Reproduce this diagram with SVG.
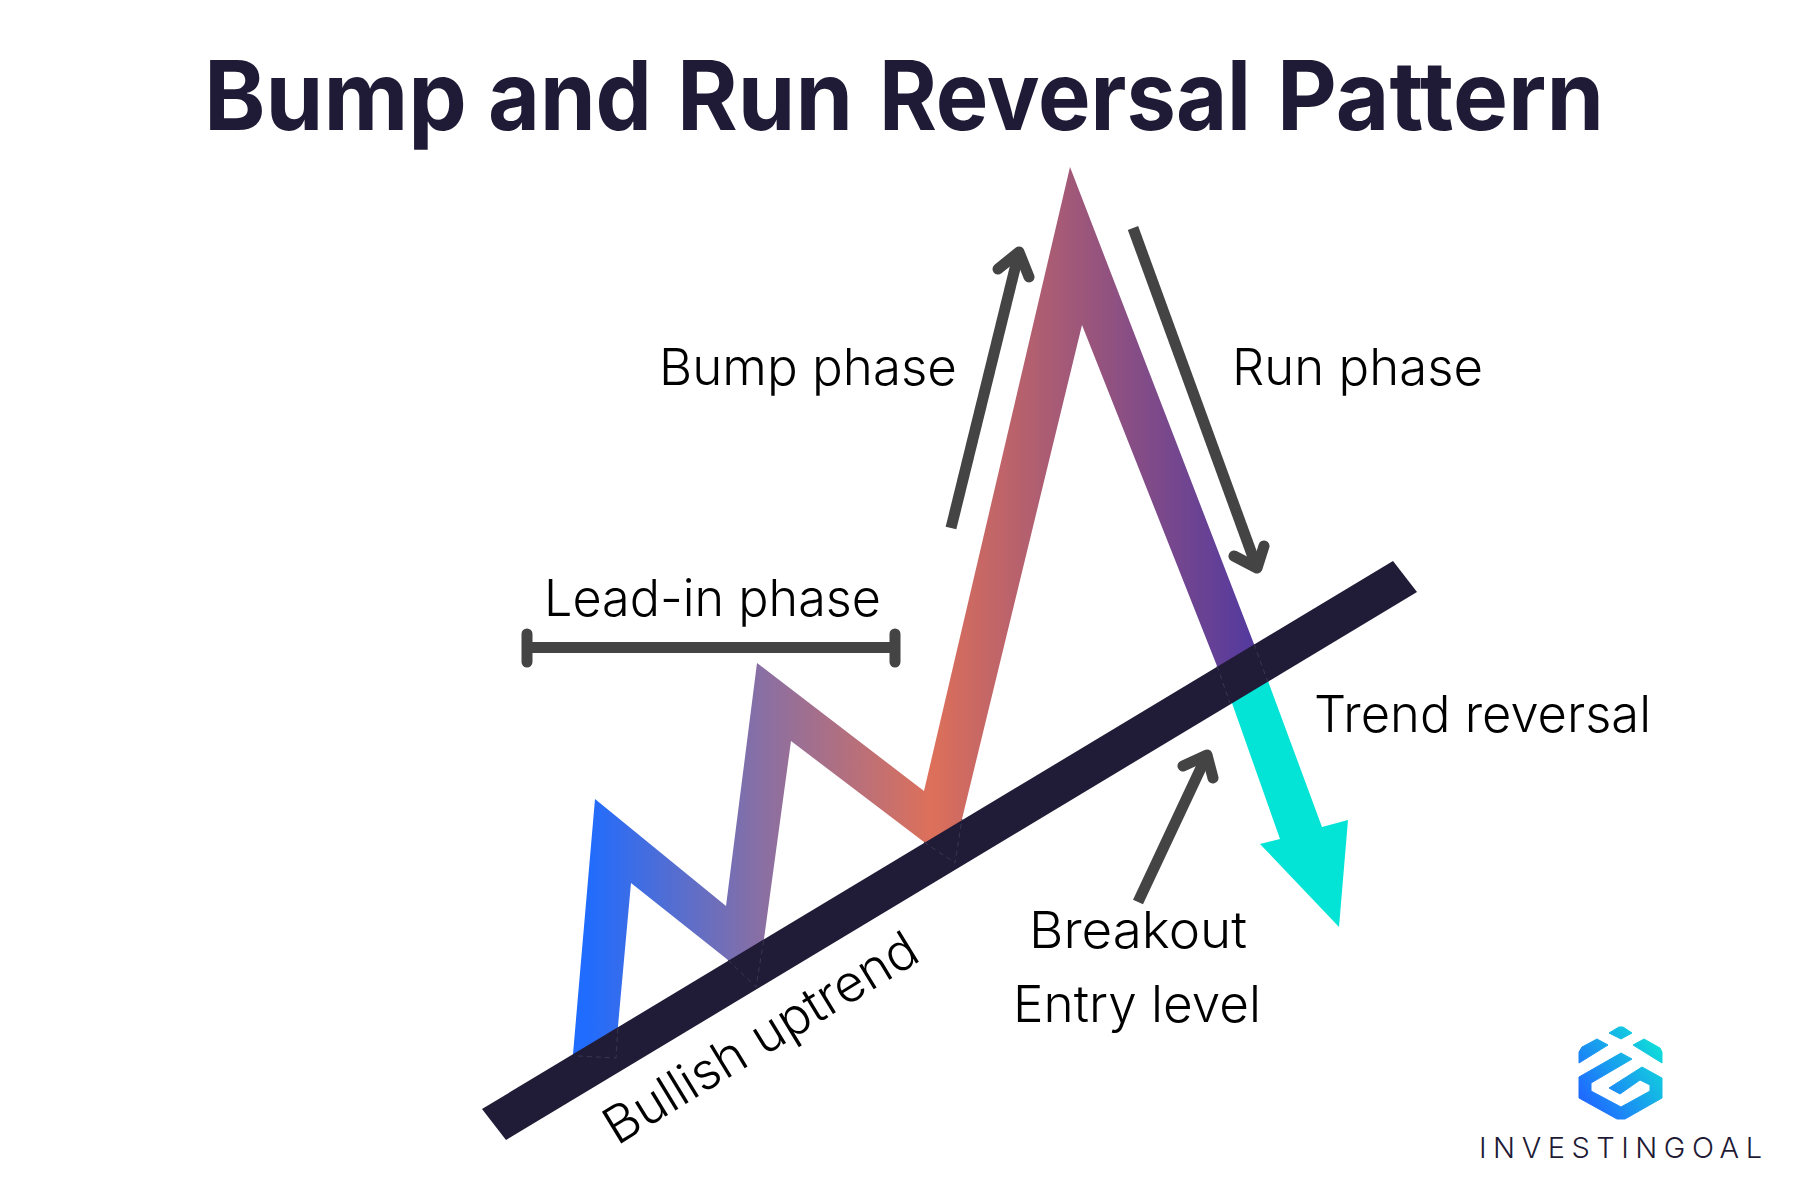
<svg xmlns="http://www.w3.org/2000/svg" width="1800" height="1200" viewBox="0 0 1800 1200">
<style>
.t{font-family:"Inter","Liberation Sans",sans-serif;font-size:51px;fill:#000;font-weight:300}
.a{fill:none;stroke:#444;stroke-width:11;stroke-linejoin:round}
.h{stroke-linecap:round}
.s{fill:none;stroke:#3a3550;stroke-width:1;stroke-dasharray:5 4}
</style>
<defs>
<linearGradient id="zig" gradientUnits="userSpaceOnUse" x1="585" y1="0" x2="1250" y2="0">
<stop offset="0" stop-color="#1f6cff"/><stop offset="0.26" stop-color="#876fa5"/><stop offset="0.52" stop-color="#dd705a"/><stop offset="1" stop-color="#553a9e"/>
</linearGradient>
<linearGradient id="logo" gradientUnits="userSpaceOnUse" x1="1585" y1="1100" x2="1662" y2="1045">
<stop offset="0" stop-color="#1f6bff"/><stop offset="1" stop-color="#0fe0d8"/>
</linearGradient>
</defs>
<rect width="1800" height="1200" fill="#fff"/>
<text y="130" font-family="Inter,Liberation Sans,sans-serif" font-size="96" font-weight="700" fill="#1f1b36"><tspan x="204" textLength="263" lengthAdjust="spacingAndGlyphs">Bump</tspan> <tspan x="488" textLength="164" lengthAdjust="spacingAndGlyphs">and</tspan> <tspan x="677" textLength="176" lengthAdjust="spacingAndGlyphs">Run</tspan> <tspan x="879" textLength="372" lengthAdjust="spacingAndGlyphs">Reversal</tspan> <tspan x="1277" textLength="327" lengthAdjust="spacingAndGlyphs">Pattern</tspan></text>
<g id="price-line"><polygon fill="url(#zig)" points="573,1054 595,799 726,906 757,663 924,791 1070,167 1254,644 1268,682 1230,703 1217,666 1082,325 962,819 955,863 924,842 791,741 764,939 756,987 728,960 631,883 618,1026 616,1058 578,1056"/></g>
<g id="breakdown"><polygon fill="#03e4d6" points="1225,685 1258,660 1268,681 1322,827 1348,820 1339,927 1260,844 1280,839 1232,703"/></g>
<g id="trendline"><polygon fill="#201b36" points="482,1109 1393,561 1417,592 506,1140"/>
<polyline class="s" points="578,1056 616,1058 618,1026"/><polyline class="s" points="728,960 756,987 764,939"/><polyline class="s" points="924,842 955,863 962,819"/><polyline class="s" points="1217,666 1230,703"/><polyline class="s" points="1254,644 1268,682"/></g>
<g id="connectors">
<path class="a" d="M951,528 L1019,252"/><path class="a h" d="M998,269 L1019,252 L1029,277"/>
<path class="a" d="M1133,228 L1257,568"/><path class="a h" d="M1234,556 L1257,568 L1264,546"/>
<path class="a" d="M1138,902 L1207,755"/><path class="a h" d="M1183,766 L1207,755 L1213,778"/>
<path class="a" d="M527,647.5 L895,647.5"/><path class="a h" d="M527,634 V662 M895,634 V662"/>
</g>
<g id="label-bump"><text class="t" x="659" y="385" textLength="298" lengthAdjust="spacingAndGlyphs">Bump phase</text></g>
<g id="label-run"><text class="t" x="1232" y="385" textLength="251" lengthAdjust="spacingAndGlyphs">Run phase</text></g>
<g id="label-leadin"><text class="t" x="544" y="616" textLength="337" lengthAdjust="spacingAndGlyphs">Lead-in phase</text></g>
<g id="label-reversal"><text class="t" x="1314" y="732" textLength="337" lengthAdjust="spacingAndGlyphs">Trend reversal</text></g>
<g id="label-breakout"><text class="t" x="1029" y="948" textLength="218" lengthAdjust="spacingAndGlyphs">Breakout</text><text class="t" x="1013" y="1022" textLength="248" lengthAdjust="spacingAndGlyphs">Entry level</text></g>
<g id="label-uptrend"><text class="t" transform="translate(617 1146) rotate(-31.4)" textLength="358" lengthAdjust="spacingAndGlyphs">Bullish uptrend</text></g>
<g id="logo-mark" fill="url(#logo)" stroke="url(#logo)" stroke-width="1" stroke-linejoin="round">
<polygon points="1609,1033 1619,1027 1623,1027 1632,1033 1621,1039"/>
<polygon points="1579,1052 1582,1047 1597,1039 1608,1045 1579,1063"/>
<polygon points="1633,1045 1644,1039 1660,1048 1662,1052 1662,1063"/>
<polygon points="1579,1077 1621,1053 1632,1059 1591,1083 1591,1091 1621,1107 1650,1091 1650,1085 1640,1080 1620,1094 1609,1088 1642,1067 1662,1078 1662,1098 1625,1119 1617,1119 1579,1098"/>
</g>
<text x="1479" y="1158" font-family="Inter,Liberation Sans,sans-serif" font-size="29" font-weight="300" fill="#1f1b36" textLength="283">INVESTINGOAL</text>
</svg>
